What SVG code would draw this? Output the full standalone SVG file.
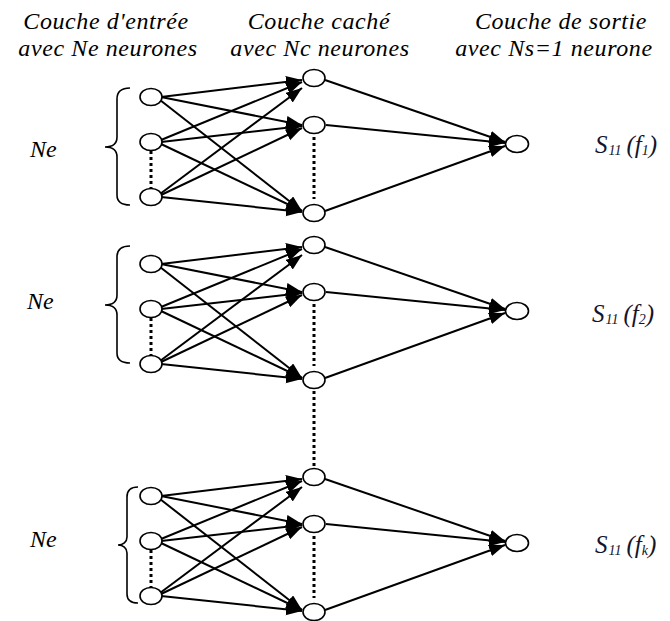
<svg xmlns="http://www.w3.org/2000/svg" width="670" height="621" viewBox="0 0 670 621">
<defs>
<marker id="ah" markerUnits="userSpaceOnUse" markerWidth="17" markerHeight="13" refX="16" refY="6" orient="auto">
<path d="M0,0 L16,6 L0,12 z" fill="#000"/>
</marker>
<style>
.n{fill:#fff;stroke:#000;stroke-width:1.6}
.c line{stroke:#000;stroke-width:2;marker-end:url(#ah)}
.dot{stroke:#000;stroke-width:3;stroke-dasharray:3 3;fill:none}
.br{fill:none;stroke:#000;stroke-width:1.6}
.t{font-family:"Liberation Serif","Times New Roman",serif;font-style:italic;fill:#000}
.h{font-size:24px;letter-spacing:0.6px;text-anchor:middle}
.lab{font-size:24px}
.s{font-size:25px;fill:#14142a}
.sub{font-size:14px}
</style>
</defs>
<g id="headers" class="t h">
<text x="106" y="29">Couche d'entrée</text>
<text x="108" y="56">avec Ne neurones</text>
<text x="319" y="29">Couche caché</text>
<text x="320" y="56">avec Nc neurones</text>
<text x="561" y="29">Couche de sortie</text>
<text x="554" y="56">avec Ns=1 neurone</text>
</g>
<g id="connectors">
<g id="conn-b1" class="c">
<line x1="161" y1="97" x2="302" y2="80"/>
<line x1="161" y1="97" x2="302" y2="125"/>
<line x1="160" y1="100" x2="302" y2="211"/>
<line x1="161" y1="140" x2="302" y2="82"/>
<line x1="161" y1="142" x2="302" y2="126"/>
<line x1="161" y1="144" x2="302" y2="211"/>
<line x1="160" y1="194" x2="302" y2="88"/>
<line x1="161" y1="195" x2="302" y2="128"/>
<line x1="161" y1="197" x2="302" y2="212"/>
<line x1="325" y1="80" x2="505" y2="142"/>
<line x1="326" y1="125" x2="505" y2="143"/>
<line x1="325" y1="211" x2="505" y2="146"/>
</g>
<g id="conn-b2" class="c" transform="translate(0,167)">
<line x1="161" y1="97" x2="302" y2="80"/>
<line x1="161" y1="97" x2="302" y2="125"/>
<line x1="160" y1="100" x2="302" y2="211"/>
<line x1="161" y1="140" x2="302" y2="82"/>
<line x1="161" y1="142" x2="302" y2="126"/>
<line x1="161" y1="144" x2="302" y2="211"/>
<line x1="160" y1="194" x2="302" y2="88"/>
<line x1="161" y1="195" x2="302" y2="128"/>
<line x1="161" y1="197" x2="302" y2="212"/>
<line x1="325" y1="80" x2="505" y2="142"/>
<line x1="326" y1="125" x2="505" y2="143"/>
<line x1="325" y1="211" x2="505" y2="146"/>
</g>
<g id="conn-b3" class="c" transform="translate(0,399)">
<line x1="161" y1="97" x2="302" y2="80"/>
<line x1="161" y1="97" x2="302" y2="125"/>
<line x1="160" y1="100" x2="302" y2="211"/>
<line x1="161" y1="140" x2="302" y2="82"/>
<line x1="161" y1="142" x2="302" y2="126"/>
<line x1="161" y1="144" x2="302" y2="211"/>
<line x1="160" y1="194" x2="302" y2="88"/>
<line x1="161" y1="195" x2="302" y2="128"/>
<line x1="161" y1="197" x2="302" y2="212"/>
<line x1="325" y1="80" x2="505" y2="142"/>
<line x1="326" y1="125" x2="505" y2="143"/>
<line x1="325" y1="211" x2="505" y2="146"/>
</g>
<g id="dots">
<line class="dot" x1="151" y1="151" x2="151" y2="188"/>
<line class="dot" x1="314" y1="137" x2="314" y2="199"/>
<line class="dot" x1="151" y1="318" x2="151" y2="355"/>
<line class="dot" x1="314" y1="304" x2="314" y2="366"/>
<line class="dot" x1="151" y1="550" x2="151" y2="587"/>
<line class="dot" x1="314" y1="536" x2="314" y2="598"/>
<line class="dot" x1="314" y1="391" x2="314" y2="467"/>
</g>
</g>
<g id="block1">
<g id="b1-in1"><ellipse class="n" cx="151" cy="97" rx="11" ry="8.5"/></g>
<g id="b1-in2"><ellipse class="n" cx="151" cy="142" rx="11" ry="8.5"/></g>
<g id="b1-in3"><ellipse class="n" cx="151" cy="197" rx="11" ry="8.5"/></g>
<g id="b1-h1"><ellipse class="n" cx="314" cy="78" rx="11" ry="8.5"/></g>
<g id="b1-h2"><ellipse class="n" cx="314" cy="125" rx="11" ry="8.5"/></g>
<g id="b1-h3"><ellipse class="n" cx="314" cy="213" rx="11" ry="8.5"/></g>
<g id="b1-out"><ellipse class="n" cx="517" cy="144" rx="11.5" ry="8.5"/></g>
<g id="b1-brace"><path class="br" d="M130,88 C122,88 117,91 117,99 L117,137 C117,144 112,147 105,147 C112,147 117,150 117,157 L117,195 C117,202 122,205 130,205"/></g>
<text class="t lab" x="30" y="157">Ne</text>
<text class="t s" x="595" y="153">S<tspan class="sub" dx="1" dy="2">11</tspan><tspan dx="5" dy="-2">(</tspan><tspan>f</tspan><tspan class="sub" dy="2">1</tspan><tspan dy="-2">)</tspan></text>
</g>
<g id="block2">
<g id="b2-in1"><ellipse class="n" cx="151" cy="264" rx="11" ry="8.5"/></g>
<g id="b2-in2"><ellipse class="n" cx="151" cy="309" rx="11" ry="8.5"/></g>
<g id="b2-in3"><ellipse class="n" cx="151" cy="364" rx="11" ry="8.5"/></g>
<g id="b2-h1"><ellipse class="n" cx="314" cy="245" rx="11" ry="8.5"/></g>
<g id="b2-h2"><ellipse class="n" cx="314" cy="292" rx="11" ry="8.5"/></g>
<g id="b2-h3"><ellipse class="n" cx="314" cy="380" rx="11" ry="8.5"/></g>
<g id="b2-out"><ellipse class="n" cx="517" cy="311" rx="11.5" ry="8.5"/></g>
<g id="b2-brace"><path class="br" d="M130,246 C122,246 117,249 117,257 L117,295 C117,302 112,305 105,305 C112,305 117,308 117,315 L117,353 C117,360 122,363 130,363"/></g>
<text class="t lab" x="27" y="309">Ne</text>
<text class="t s" x="592" y="322">S<tspan class="sub" dx="1" dy="2">11</tspan><tspan dx="5" dy="-2">(</tspan><tspan>f</tspan><tspan class="sub" dy="2">2</tspan><tspan dy="-2">)</tspan></text>
</g>
<g id="block3">
<g id="b3-in1"><ellipse class="n" cx="151" cy="496" rx="11" ry="8.5"/></g>
<g id="b3-in2"><ellipse class="n" cx="151" cy="541" rx="11" ry="8.5"/></g>
<g id="b3-in3"><ellipse class="n" cx="151" cy="596" rx="11" ry="8.5"/></g>
<g id="b3-h1"><ellipse class="n" cx="314" cy="477" rx="11" ry="8.5"/></g>
<g id="b3-h2"><ellipse class="n" cx="314" cy="524" rx="11" ry="8.5"/></g>
<g id="b3-h3"><ellipse class="n" cx="314" cy="612" rx="11" ry="8.5"/></g>
<g id="b3-out"><ellipse class="n" cx="517" cy="543" rx="11.5" ry="8.5"/></g>
<g id="b3-brace"><path class="br" d="M138,487 C131,487 127,490 127,497 L127,537 C127,542 123,545 118,545 C123,545 127,548 127,553 L127,594 C127,600 131,603 138,603"/></g>
<text class="t lab" x="30" y="547">Ne</text>
<text class="t s" x="595" y="553">S<tspan class="sub" dx="1" dy="2">11</tspan><tspan dx="5" dy="-2">(</tspan><tspan>f</tspan><tspan class="sub" dy="2">k</tspan><tspan dy="-2">)</tspan></text>
</g>
</svg>
